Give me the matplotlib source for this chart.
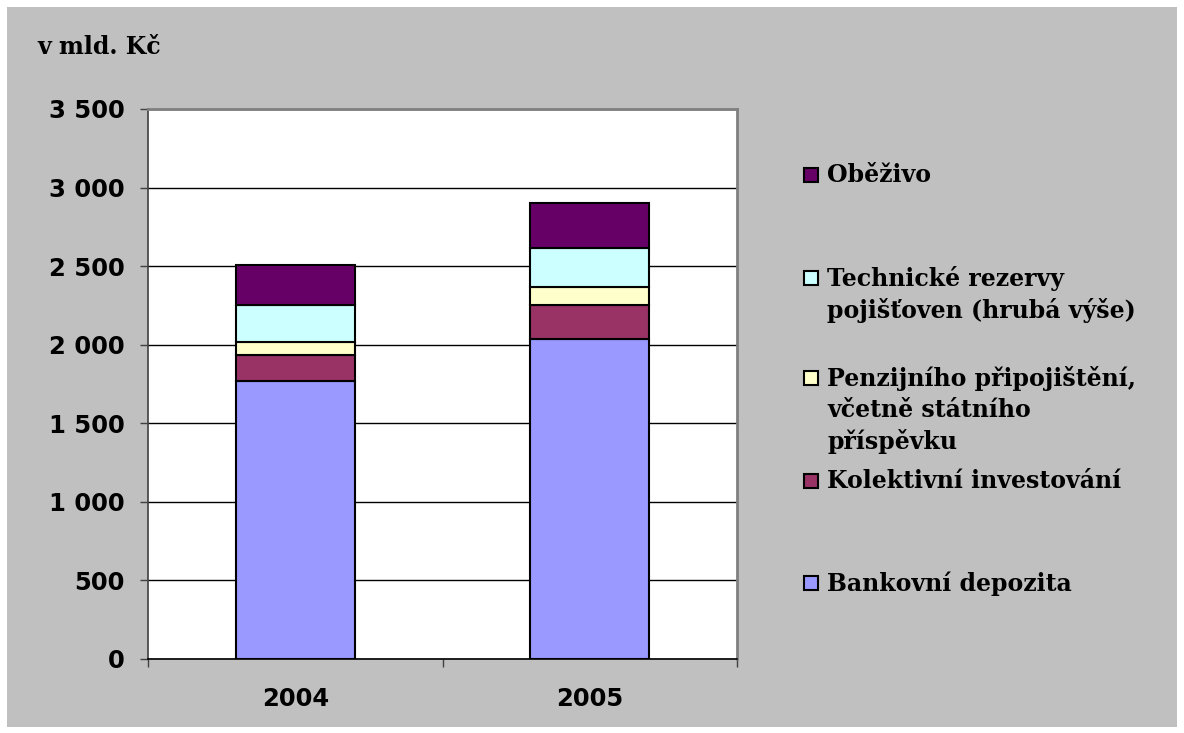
import matplotlib
matplotlib.use("Agg")
import matplotlib.pyplot as plt
from matplotlib.patches import Rectangle

# data (mld. Kc)
years = ["2004", "2005"]
series = ["Bankovní depozita", "Kolektivní investování",
          "Penzijního připojištění,\nvčetně státního\npříspěvku",
          "Technické rezervy\npojišťoven (hrubá výše)", "Oběživo"]
bank = [1769, 2036]
kolektiv = [166, 217]
penzijni = [84, 112]
rezervy = [234, 253]
obezivo = [254, 282]
colors = ["#9999FF", "#993366", "#FFFFCC", "#CCFFFF", "#660066"]

W, H = 1184, 733
fig = plt.figure(figsize=(W / 100, H / 100), dpi=100)
fig.patch.set_facecolor("white")
fig.add_artist(Rectangle((7 / W, 1 - 727 / H), 1170 / W, 720 / H,
                         transform=fig.transFigure, facecolor="#C0C0C0",
                         edgecolor="none", zorder=0))

ax = fig.add_axes([148 / W, 1 - 659 / H, 589 / W, 550 / H])
ax.set_facecolor("white")

x = [0, 1]
bottom = [0, 0]
for vals, col in zip([bank, kolektiv, penzijni, rezervy, obezivo], colors):
    ax.bar(x, vals, bottom=bottom, width=0.405, color=col,
           edgecolor="black", linewidth=1.5, zorder=3)
    bottom = [b + v for b, v in zip(bottom, vals)]

tick_font = dict(fontfamily="DejaVu Sans", fontweight="bold", fontsize=17.5)

ax.set_xlim(-0.5, 1.5)
ax.set_ylim(0, 3500)
yt = list(range(0, 3501, 500))
ax.set_yticks(yt)
ax.set_yticklabels([f"{v:,}".replace(",", " ") for v in yt], **tick_font)
ax.yaxis.grid(True, color="black", linewidth=1)
ax.set_axisbelow(True)
ax.tick_params(axis="y", length=6, width=1, color="#404040", pad=11)

ax.set_xticks([-0.5, 0.5, 1.5])
ax.set_xticklabels([])
ax.set_xticks(x, minor=True)
ax.set_xticklabels(years, minor=True, **tick_font)
ax.tick_params(axis="x", which="major", length=6, width=1, color="#404040")
ax.tick_params(axis="x", which="minor", length=0, pad=20)

for s in ["top", "right"]:
    ax.spines[s].set_color("#808080")
    ax.spines[s].set_linewidth(2)
ax.spines["left"].set_color("#404040")
ax.spines["bottom"].set_color("black")
ax.spines["left"].set_linewidth(1.2)
ax.spines["bottom"].set_linewidth(1.2)

leg_font = dict(fontfamily="DejaVu Serif", fontweight="bold", fontsize=17)

fig.text(37 / W, 1 - 54 / H, "v mld. Kč", va="baseline", ha="left", **leg_font)

# legend drawn by hand to follow the original placement (baseline of first line)
leg_base = [590, 488, 385, 285, 182]
for lab, col, yb in zip(series, colors, leg_base):
    fig.add_artist(Rectangle((804 / W, 1 - yb / H), 14 / W, 14 / H,
                             transform=fig.transFigure, facecolor=col,
                             edgecolor="black", linewidth=1.5))
    fig.text(827 / W, 1 - (yb - 19) / H, lab, va="top", ha="left",
             linespacing=1.37, **leg_font)

fig.savefig("out.png", dpi=100)
